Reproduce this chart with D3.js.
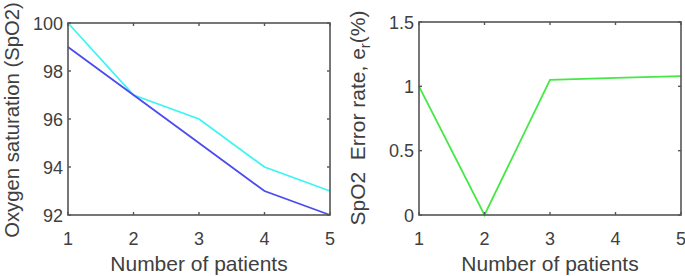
<!DOCTYPE html>
<html>
<head>
<meta charset="utf-8">
<script src="https://cdn.jsdelivr.net/npm/d3@7"></script>
<style>
  body { margin: 0; background: #fff; }
  text { font-family: "Liberation Sans", Arial, sans-serif; fill: #404040; }
</style>
</head>
<body>
<div id="chart"></div>
<script>
// Data
const patients = [1, 2, 3, 4, 5];
const spo2Measured = [99, 97, 95, 93, 92];     // blue
const spo2Reference = [100, 97, 96, 94, 93];   // cyan
const errorRate = [1, 0, 1.05, 1.065, 1.08];   // green
const leftTicks = [92, 94, 96, 98, 100];
const rightTicks = [0, 0.5, 1, 1.5];

const W = 685, H = 276;
const svg = d3.select("#chart").append("svg")
  .attr("width", W).attr("height", H)
  .style("background", "#fff");

const axisColor = "#555";
const tickLen = 3;

function panel(opts) {
  const { left, right, top, bottom, yDomain, yTicks, yFmt, series } = opts;
  const x = d3.scaleLinear().domain([1, 5]).range([left, right]);
  const y = d3.scaleLinear().domain(yDomain).range([bottom, top]);
  const g = svg.append("g");

  // lines
  const line = d3.line().x((d, i) => x(patients[i])).y(d => y(d));
  series.forEach(s => {
    g.append("path")
      .datum(s.values)
      .attr("fill", "none")
      .attr("stroke", s.color)
      .attr("stroke-width", 1.8)
      .attr("d", line);
  });

  // box
  g.append("rect")
    .attr("x", left).attr("y", top)
    .attr("width", right - left).attr("height", bottom - top)
    .attr("fill", "none").attr("stroke", axisColor).attr("stroke-width", 1.6);

  // inward ticks on all four sides
  patients.forEach(p => {
    g.append("line").attr("x1", x(p)).attr("x2", x(p)).attr("y1", bottom).attr("y2", bottom - tickLen)
      .attr("stroke", axisColor).attr("stroke-width", 1.4);
    g.append("line").attr("x1", x(p)).attr("x2", x(p)).attr("y1", top).attr("y2", top + tickLen)
      .attr("stroke", axisColor).attr("stroke-width", 1.4);
    g.append("text").attr("x", x(p)).attr("y", bottom + 30)
      .attr("text-anchor", "middle").style("font-size", "18px").text(p);
  });
  yTicks.forEach(t => {
    g.append("line").attr("x1", left).attr("x2", left + tickLen).attr("y1", y(t)).attr("y2", y(t))
      .attr("stroke", axisColor).attr("stroke-width", 1.4);
    g.append("line").attr("x1", right).attr("x2", right - tickLen).attr("y1", y(t)).attr("y2", y(t))
      .attr("stroke", axisColor).attr("stroke-width", 1.4);
    g.append("text").attr("x", left - 5).attr("y", y(t) + 6.5)
      .attr("text-anchor", "end").style("font-size", "18px").text(yFmt(t));
  });

  // x label
  g.append("text")
    .attr("x", (left + right) / 2).attr("y", bottom + 56)
    .attr("text-anchor", "middle").style("font-size", "21px")
    .text("Number of patients");
  return { x, y, g };
}

const p1 = panel({
  left: 68, right: 330, top: 23, bottom: 215,
  yDomain: [92, 100], yTicks: leftTicks, yFmt: d => d,
  series: [
    { values: spo2Reference, color: "#3ff4f4" },
    { values: spo2Measured, color: "#4b4bf0" }
  ]
});
svg.append("text")
  .attr("transform", "translate(19,120) rotate(-90)")
  .attr("text-anchor", "middle").style("font-size", "20.3px")
  .text("Oxygen saturation (SpO2)");

const p2 = panel({
  left: 419, right: 681, top: 22, bottom: 215,
  yDomain: [0, 1.5], yTicks: rightTicks, yFmt: d => d,
  series: [
    { values: errorRate, color: "#45e845" }
  ]
});
const yl = svg.append("text")
  .attr("transform", "translate(365,118) rotate(-90)")
  .attr("text-anchor", "middle").style("font-size", "21px");
yl.append("tspan").text("SpO2\u00a0\u00a0Error rate, e");
yl.append("tspan").attr("dy", 5).style("font-size", "15px").text("r");
yl.append("tspan").attr("dy", -5).text("(%)");
</script>
</body>
</html>
